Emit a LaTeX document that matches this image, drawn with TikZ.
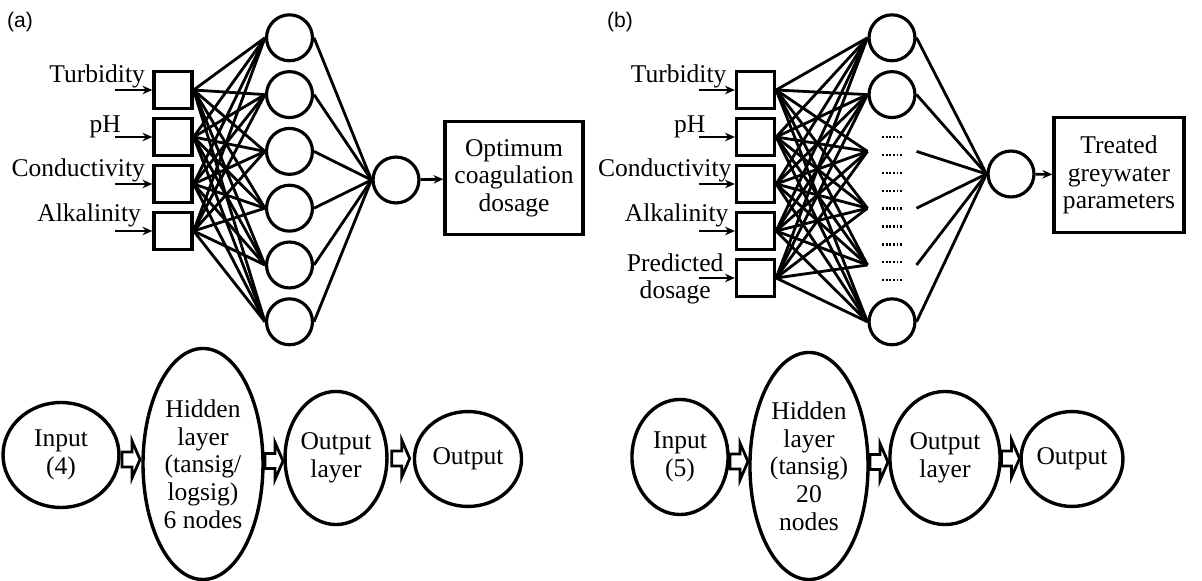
\documentclass[tikz,border=0pt]{standalone}
\usepackage{fontspec}
\setmainfont{Liberation Serif}
\setsansfont{Liberation Sans}
\usetikzlibrary{shapes.geometric,calc,arrows.meta}

\tikzset{
  inbox/.style={draw, line width=1.4pt, minimum width=16.2pt, minimum height=15.8pt, inner sep=0pt},
  neuron/.style={draw, circle, line width=1.35pt, minimum size=19.6pt, inner sep=0pt},
  ghost/.style={neuron, draw=none},
  outbox/.style={draw, line width=1.4pt, align=center, inner sep=0pt},
  layer/.style={draw, ellipse, line width=1.45pt, align=center, inner sep=0pt},
  wire/.style={line width=1.2pt},
  feed/.style={line width=1.2pt, ->},
  dotrow/.style={line width=1pt, dash pattern=on 0.8pt off 0.75pt},
  tag/.style={font=\sffamily\fontsize{9}{10}\selectfont},
  blockarr/.pic={
    \draw[line width=1.2pt, fill=white] (-0.09,0.075) -- (0.01,0.075) -- (0.01,0.185)
      -- (0.09,0) -- (0.01,-0.185) -- (0.01,-0.075) -- (-0.09,-0.075) -- cycle;
  }
}

\begin{document}
\begin{tikzpicture}[x=1.5cm, y=1.5cm, >={Stealth[length=4.2pt, width=3.6pt]}, font=\fontsize{10.9}{11.8}\selectfont]
    \useasboundingbox (0,0) rectangle (12.02,5.81);

    % (a) network: 4 inputs, 6 hidden neurons, 1 output
    \node[tag] (tagA) at (0.20,5.59) {(a)};
    \foreach \i in {1,...,4}
        \node[inbox] (ia\i) at (1.73,5.38-0.47*\i) {};
    \foreach \j in {1,...,6}
        \node[neuron] (ha\j) at (2.895,6.0-0.568*\j) {};
    \node[neuron] (oa) at (3.96,4.01) {};
    \node[outbox, minimum width=58.9pt, minimum height=48.2pt] (ra) at (5.14,4.03) {Optimum\\coagulation\\dosage};

    \foreach \i in {1,...,4}
        \foreach \j in {1,...,6}
            \draw[wire] (ia\i.east) -- (ha\j.west);
    \foreach \j in {1,...,6}
        \draw[wire] (ha\j.east) -- (oa.west);
    \draw[feed] (oa) -- (ra);

    \foreach \i/\txt/\dx/\dy in {1/Turbidity/-7/7, 2/pH/-31/4, 3/Conductivity/-7/7, 4/Alkalinity/-11/9} {
        \coordinate (ta\i) at ($(ia\i.west)+(-0.37,0)$);
        \draw[feed] (ta\i) -- (ia\i.west);
        \node[anchor=base east, inner sep=0pt] (la\i) at ($(ia\i.west)+(\dx/100,\dy/100)$) {\txt};
    }

    % (b) network: 5 inputs, 20 hidden neurons (only some drawn), 1 output
    \node[tag] (tagB) at (6.20,5.59) {(b)};
    \foreach \i in {1,...,5}
        \node[inbox] (ib\i) at (7.555,5.38-0.47*\i) {};
    \foreach \j in {1,2,6}
        \node[neuron] (hb\j) at (8.92,6.0-0.568*\j) {};
    \foreach \j in {3,4,5}
        \node[ghost] (hb\j) at (8.92,6.0-0.568*\j) {};
    \foreach \k in {0,...,8}
        \draw[dotrow] (8.82,4.44-0.179*\k) -- ++(0.21,0);
    \node[neuron] (ob) at (10.11,4.07) {};
    \node[outbox, minimum width=55.5pt, minimum height=49.1pt] (rb) at (11.19,4.06) {Treated\\greywater\\parameters};

    \foreach \i in {1,...,5}
        \foreach \j in {1,...,6}
            \draw[wire] (ib\i.east) -- (hb\j.west);
    \foreach \j in {1,...,6}
        \draw[wire] (hb\j.east) -- (ob.west);
    \draw[feed] (ob) -- (rb);

    \foreach \i/\txt/\dx/\dy in {1/Turbidity/-8/7, 2/pH/-29/4, 3/Conductivity/-3/7, 4/Alkalinity/-6/9} {
        \coordinate (tb\i) at ($(ib\i.west)+(-0.36,0)$);
        \draw[feed] (tb\i) -- (ib\i.west);
        \node[anchor=base east, inner sep=0pt] (lb\i) at ($(ib\i.west)+(\dx/100,\dy/100)$) {\txt};
    }
    \coordinate (tb5) at ($(ib5.west)+(-0.36,0)$);
    \draw[feed] (tb5) -- (ib5.west);
    \node[anchor=base east, align=center, inner sep=0pt] (lb5) at ($(ib5.west)+(-0.11,-0.21)$) {Predicted\\dosage};

    % layer summaries
    \node[layer, minimum width=49.5pt, minimum height=44.8pt] (inA) at (0.61,1.26) {Input\\(4)};
    \node[layer, minimum width=51.2pt, minimum height=98.6pt] (hidA) at (2.03,1.17) {Hidden\\layer\\(tansig/\\logsig)\\6 nodes};
    \node[layer, minimum width=43.5pt, minimum height=56.8pt] (olA) at (3.36,1.23) {Output\\layer};
    \node[layer, minimum width=45.7pt, minimum height=40.5pt] (outA) at (4.68,1.22) {Output};

    \node[layer, minimum width=41pt, minimum height=49.1pt] (inB) at (6.80,1.24) {Input\\(5)};
    \node[layer, minimum width=50.4pt, minimum height=96.9pt] (hidB) at (8.09,1.15) {Hidden\\layer\\(tansig)\\20\\nodes};
    \node[layer, minimum width=47pt, minimum height=56.8pt] (olB) at (9.45,1.23) {Output\\layer};
    \node[layer, minimum width=43.5pt, minimum height=40.5pt] (outB) at (10.72,1.22) {Output};

    \foreach \a/\b in {inA/hidA, hidA/olA, olA/outA, inB/hidB, hidB/olB, olB/outB}
        \pic at ($(\a.east)!0.5!(\b.west)$) {blockarr};
\end{tikzpicture}
\end{document}
